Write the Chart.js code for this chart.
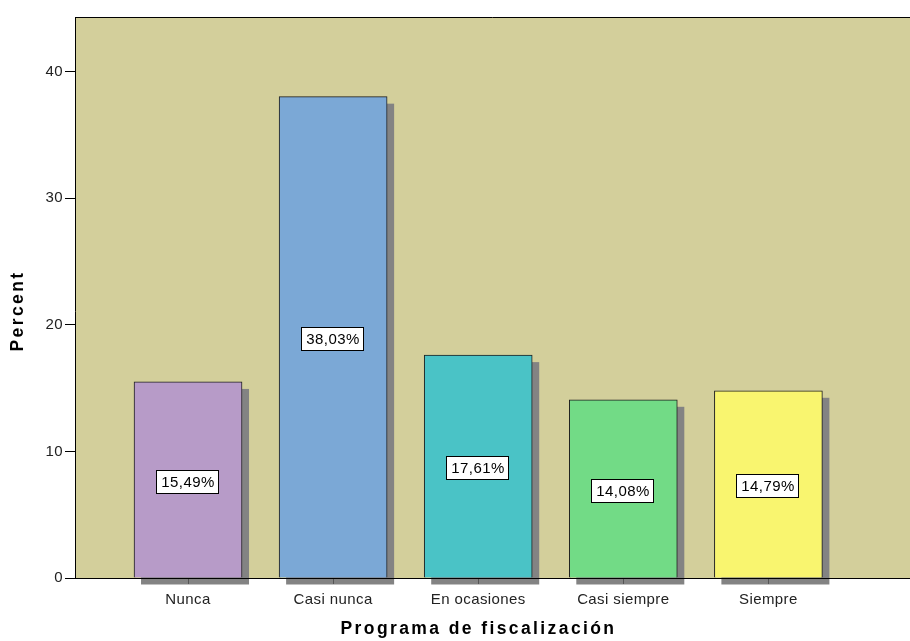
<!DOCTYPE html>
<html>
<head>
<meta charset="utf-8">
<script src="https://cdn.jsdelivr.net/npm/chart.js@4/dist/chart.umd.min.js"></script>
<style>
  html, body { margin: 0; padding: 0; background: #fff; }
  canvas { display: block; }
</style>
</head>
<body>
<canvas id="chart" width="910" height="641"></canvas>
<script>
// values
const categories = ['Nunca', 'Casi nunca', 'En ocasiones', 'Casi siempre', 'Siempre'];
const percents = [15.49, 38.03, 17.61, 14.08, 14.79];
const barColors = ['#B79BC8', '#7BA8D6', '#4AC3C6', '#72DB86', '#F9F56F'];
const yTicks = [0, 10, 20, 30, 40];

const FONT = "'Liberation Sans', Arial, sans-serif";

// SPSS-like wide text: letter spacing depending on weight
const spacing = {
    id: 'spacing',
    beforeInit(chart) {
        const ctx = chart.ctx;
        const fill = ctx.fillText;
        ctx.fillText = function () {
            ctx.letterSpacing = /bold/.test(ctx.font) ? '2.4px' : '0.4px';
            return fill.apply(ctx, arguments);
        };
    }
};

// tan plot background; the frame runs on past the titled area (cropped export)
const plotBg = {
    id: 'plotBg',
    beforeDraw(chart) {
        const {ctx, chartArea: a, width} = chart;
        const top = 17;
        ctx.save();
        ctx.fillStyle = '#D3CF9B';
        ctx.fillRect(a.left, top, width - a.left, a.bottom - top);
        ctx.strokeStyle = '#000';
        ctx.lineWidth = 1;
        ctx.beginPath();
        ctx.moveTo(a.left, top + 0.5);
        ctx.lineTo(width, top + 0.5);
        ctx.moveTo(a.left + 0.5, top);
        ctx.lineTo(a.left + 0.5, a.top);
        ctx.moveTo(a.right, Math.round(a.bottom) + 0.5);
        ctx.lineTo(width, Math.round(a.bottom) + 0.5);
        ctx.stroke();
        ctx.restore();
    }
};

// drop shadow behind bars (under the axes), value boxes on top
const barExtras = {
    id: 'barExtras',
    beforeDraw(chart) {
        const ctx = chart.ctx;
        ctx.save();
        ctx.fillStyle = '#838383';
        for (const bar of chart.getDatasetMeta(0).data) {
            const {x, y, base, width} = bar.getProps(['x', 'y', 'base', 'width'], true);
            ctx.fillRect(x - width / 2 + 7, y + 7, width, base - y);
        }
        ctx.restore();
    },
    afterDatasetsDraw(chart) {
        const ctx = chart.ctx;
        ctx.save();
        ctx.font = '15px ' + FONT;
        ctx.textAlign = 'center';
        ctx.textBaseline = 'middle';
        chart.getDatasetMeta(0).data.forEach((bar, i) => {
            const {x, y, base} = bar.getProps(['x', 'y', 'base'], true);
            const text = percents[i].toFixed(2).replace('.', ',') + '%';
            ctx.letterSpacing = '0.4px';
            const w = Math.round(ctx.measureText(text).width + 10);
            const h = 24;
            const cx = Math.round(x);
            const cy = Math.round((y + base) / 2 + 2);
            const left = cx - Math.round(w / 2);
            const top = cy - h / 2;
            ctx.fillStyle = '#fff';
            ctx.fillRect(left, top, w, h);
            ctx.strokeStyle = '#000';
            ctx.lineWidth = 1;
            ctx.strokeRect(left + 0.5, top + 0.5, w - 1, h - 1);
            ctx.fillStyle = '#000';
            ctx.fillText(text, cx, cy + 1);
        });
        ctx.restore();
    }
};

new Chart(document.getElementById('chart'), {
    type: 'bar',
    data: {
        datasets: [{
            data: categories.map((c, i) => ({x: i, y: percents[i]})),
            backgroundColor: barColors,
            borderColor: '#1e1e1e',
            borderWidth: 1,
            barThickness: 108
        }]
    },
    options: {
        responsive: false,
        animation: false,
        layout: {padding: {top: 44, right: 28, bottom: 0, left: 0}},
        plugins: {
            legend: {display: false},
            tooltip: {enabled: false}
        },
        scales: {
            x: {
                type: 'linear',
                offset: false,
                min: -0.779,
                max: 4.783,
                afterBuildTicks: s => { s.ticks = categories.map((c, i) => ({value: i})); },
                afterFit: s => { s.height = 63; },
                ticks: {
                    callback: v => categories[v],
                    font: {family: FONT, size: 15},
                    color: '#222',
                    padding: 7,
                    maxRotation: 0,
                    autoSkip: false
                },
                grid: {drawOnChartArea: false, offset: false, tickLength: 6, color: '#555'},
                border: {color: '#000', width: 1},
                title: {
                    display: true,
                    text: 'Programa de fiscalización',
                    font: {family: FONT, size: 17.5, weight: 'bold'},
                    color: '#000',
                    padding: {top: 0, bottom: 1}
                }
            },
            y: {
                min: 0,
                max: 42.19,
                afterBuildTicks: s => { s.ticks = yTicks.map(v => ({value: v})); },
                afterFit: s => { s.width = 75; },
                ticks: {
                    font: {family: FONT, size: 15},
                    color: '#222',
                    padding: 2
                },
                grid: {drawOnChartArea: false, tickLength: 10, color: '#000'},
                border: {color: '#000', width: 1},
                title: {
                    display: true,
                    text: 'Percent',
                    font: {family: FONT, size: 17.5, weight: 'bold'},
                    color: '#000',
                    padding: {top: 8, bottom: 0}
                }
            }
        }
    },
    plugins: [spacing, plotBg, barExtras]
});
</script>
</body>
</html>
